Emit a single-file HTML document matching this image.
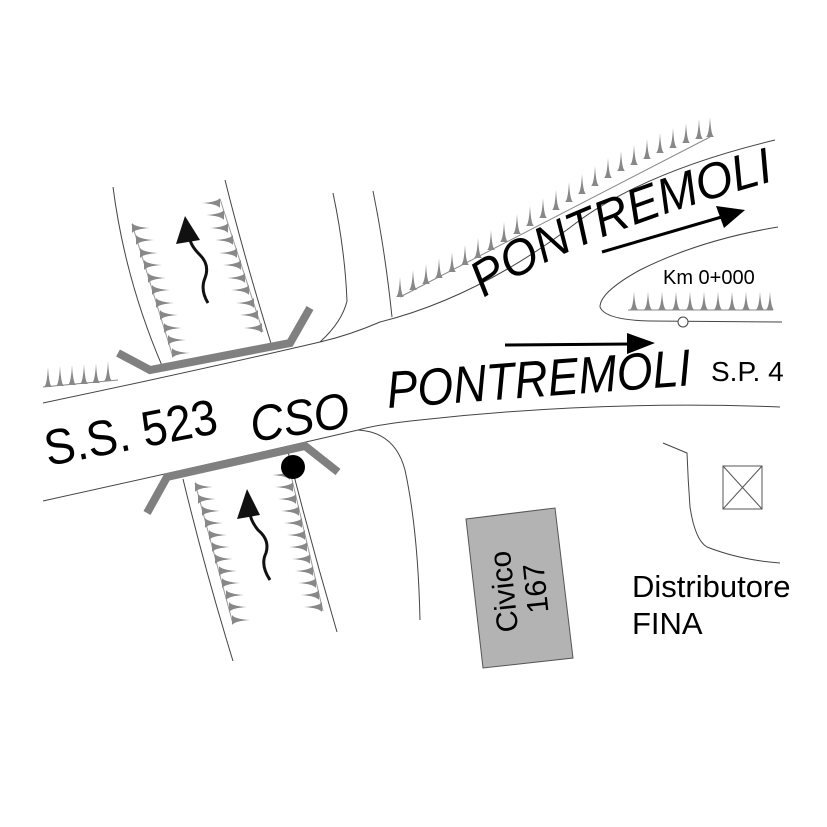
<!DOCTYPE html>
<html><head><meta charset="utf-8"><style>
html,body{margin:0;padding:0;background:#fff;}
svg{display:block;font-family:"Liberation Sans",sans-serif;}
</style></head><body>
<svg width="827" height="827" viewBox="0 0 827 827" xmlns="http://www.w3.org/2000/svg">
<defs>
<g id="tu"><path d="M-4,0 Q-1,-2 0,-20 Q1,-2 4,0 Z" fill="#888"/></g>
<g id="tr"><path d="M0,-5 Q3,-1 18,0 Q3,1 0,5 Z" fill="#888"/></g>
<g id="tl"><path d="M0,-5 Q-3,-1 -18,0 Q-3,1 0,5 Z" fill="#888"/></g>
<path id="up" d="M484,298 Q575,236 770,182"/>
</defs>
<g fill="none" stroke="#444" stroke-width="1">
<path d="M43,403 Q200,370 320,342 Q350,335 380,322 Q480,297 580,220 Q650,170 775,140"/>
<path d="M43,501 Q220,462 358,430 Q380,424 420,420 Q600,400 780,407"/>
<path d="M778,227 Q700,240 640,270 Q600,292 600,307 Q605,320 650,321 L782,322"/>
<path d="M113,187 Q125,280 163,368"/>
<path d="M225,180 Q245,260 273,350"/>
<path d="M183,479 Q205,570 233,661"/>
<path d="M287,448 Q310,540 337,632"/>
<path d="M333,193 Q345,250 347,301 Q342,322 320,342"/>
<path d="M373,191 Q385,250 392,317"/>
<path d="M358,430 Q395,432 405,470 Q418,530 420,620"/>
<path d="M663,443 L687,453 Q688,480 690,507 Q695,540 707,547 Q740,560 780,563"/>
</g>
<g>
<use href="#tu" x="400" y="297"/><use href="#tu" x="413" y="290"/><use href="#tu" x="426" y="284"/><use href="#tu" x="439" y="278"/><use href="#tu" x="452" y="272"/><use href="#tu" x="465" y="265"/><use href="#tu" x="478" y="258"/><use href="#tu" x="491" y="250"/><use href="#tu" x="504" y="242"/><use href="#tu" x="517" y="234"/><use href="#tu" x="530" y="226"/><use href="#tu" x="543" y="218"/><use href="#tu" x="556" y="210"/><use href="#tu" x="569" y="202"/><use href="#tu" x="582" y="194"/><use href="#tu" x="595" y="186"/><use href="#tu" x="608" y="178"/><use href="#tu" x="621" y="171"/><use href="#tu" x="634" y="165"/><use href="#tu" x="647" y="159"/><use href="#tu" x="660" y="153"/><use href="#tu" x="673" y="148"/><use href="#tu" x="686" y="143"/><use href="#tu" x="699" y="139"/><use href="#tu" x="710" y="137"/>
</g>
<line x1="400" y1="297" x2="710" y2="137" stroke="#888" stroke-width="1"/>
<line x1="628" y1="310" x2="773" y2="310" stroke="#888"/>
<g transform="scale(1,0.9) translate(0,34)">
<use href="#tu" x="634" y="310"/><use href="#tu" x="648" y="310"/><use href="#tu" x="662" y="310"/><use href="#tu" x="676" y="310"/><use href="#tu" x="690" y="310"/><use href="#tu" x="704" y="310"/><use href="#tu" x="718" y="310"/><use href="#tu" x="732" y="310"/><use href="#tu" x="746" y="310"/><use href="#tu" x="760" y="310"/><use href="#tu" x="770" y="310"/>
</g>
<circle cx="683" cy="322" r="5" fill="#fff" stroke="#444"/>
<line x1="43" y1="387" x2="118" y2="380" stroke="#888"/>
<g><use href="#tu" x="48" y="387"/><use href="#tu" x="60" y="386"/><use href="#tu" x="72" y="385"/><use href="#tu" x="84" y="384"/><use href="#tu" x="96" y="383"/><use href="#tu" x="108" y="381"/></g>
<g stroke="#999" stroke-width="1">
<line x1="132" y1="224" x2="173" y2="357"/>
<line x1="220" y1="199" x2="263" y2="332"/>
<line x1="195" y1="483" x2="233" y2="624"/>
<line x1="290" y1="471" x2="323" y2="611"/>
</g>
<g>
<use href="#tr" x="132" y="228"/><use href="#tr" x="136" y="240"/><use href="#tr" x="140" y="253"/><use href="#tr" x="144" y="265"/><use href="#tr" x="148" y="278"/><use href="#tr" x="152" y="290"/><use href="#tr" x="156" y="303"/><use href="#tr" x="160" y="315"/><use href="#tr" x="164" y="328"/><use href="#tr" x="168" y="340"/><use href="#tr" x="172" y="353"/>
<use href="#tl" x="220" y="203"/><use href="#tl" x="224" y="215"/><use href="#tl" x="228" y="228"/><use href="#tl" x="233" y="240"/><use href="#tl" x="237" y="253"/><use href="#tl" x="241" y="265"/><use href="#tl" x="245" y="278"/><use href="#tl" x="249" y="290"/><use href="#tl" x="254" y="303"/><use href="#tl" x="258" y="315"/><use href="#tl" x="262" y="328"/>
<use href="#tr" x="195" y="487"/><use href="#tr" x="198" y="499"/><use href="#tr" x="202" y="511"/><use href="#tr" x="205" y="523"/><use href="#tr" x="209" y="535"/><use href="#tr" x="212" y="547"/><use href="#tr" x="215" y="559"/><use href="#tr" x="219" y="571"/><use href="#tr" x="222" y="583"/><use href="#tr" x="226" y="595"/><use href="#tr" x="229" y="607"/><use href="#tr" x="232" y="620"/>
<use href="#tl" x="290" y="475"/><use href="#tl" x="293" y="487"/><use href="#tl" x="296" y="499"/><use href="#tl" x="299" y="511"/><use href="#tl" x="302" y="523"/><use href="#tl" x="305" y="535"/><use href="#tl" x="307" y="547"/><use href="#tl" x="310" y="559"/><use href="#tl" x="313" y="571"/><use href="#tl" x="316" y="583"/><use href="#tl" x="319" y="595"/><use href="#tl" x="322" y="607"/>
</g>
<polyline points="118,353 150,370 290,343 310,308" fill="none" stroke="#808080" stroke-width="8"/>
<polyline points="147,513 167,477 305,446 338,472" fill="none" stroke="#808080" stroke-width="8"/>
<circle cx="293" cy="467" r="12" fill="#000"/>
<path d="M208,303 Q200,290 205,278 Q210,265 200,255 Q190,245 190,238" fill="none" stroke="#111" stroke-width="3"/>
<polygon points="185,216 176,244 200,240" fill="#111"/>
<path d="M270,580 Q260,565 266,553 Q270,540 258,530 Q250,520 250,512" fill="none" stroke="#111" stroke-width="3"/>
<polygon points="247,489 237,519 260,515" fill="#111"/>
<line x1="602" y1="252" x2="725" y2="216" stroke="#000" stroke-width="3"/>
<polygon points="745,210 716,206 724,228" fill="#000"/>
<line x1="505" y1="345" x2="632" y2="344" stroke="#000" stroke-width="3"/>
<polygon points="655,343 627,333 627,354" fill="#000"/>
<polygon points="466,519 555,508 573,658 483,668" fill="#b3b3b3" stroke="#555"/>
<g transform="translate(520,590) rotate(-96)">
<text x="0" y="-6" font-size="30" text-anchor="middle">Civico</text>
<text x="0" y="26" font-size="30" text-anchor="middle">167</text>
</g>
<rect x="723" y="466" width="39" height="43" fill="#fff" stroke="#555"/>
<path d="M723,466 L762,509 M762,466 L723,509" stroke="#555"/>
<text x="632" y="597" font-size="31">Distributore</text>
<text x="632" y="634" font-size="31">FINA</text>
<text x="663" y="284" font-size="20">Km 0+000</text>
<text x="711" y="381" font-size="28">S.P. 4</text>
<text transform="translate(388,408) rotate(-4.3)" font-size="52" font-style="italic" textLength="305" lengthAdjust="spacingAndGlyphs">PONTREMOLI</text>
<text font-size="50" font-style="italic"><textPath href="#up" textLength="315" lengthAdjust="spacingAndGlyphs">PONTREMOLI</textPath></text>
<text transform="translate(48,466) rotate(-11)" font-size="50" textLength="175" lengthAdjust="spacingAndGlyphs">S.S. 523</text>
<text transform="translate(253,442) rotate(-9)" font-size="50" font-style="italic" textLength="100" lengthAdjust="spacingAndGlyphs">CSO</text>
</svg>
</body></html>
